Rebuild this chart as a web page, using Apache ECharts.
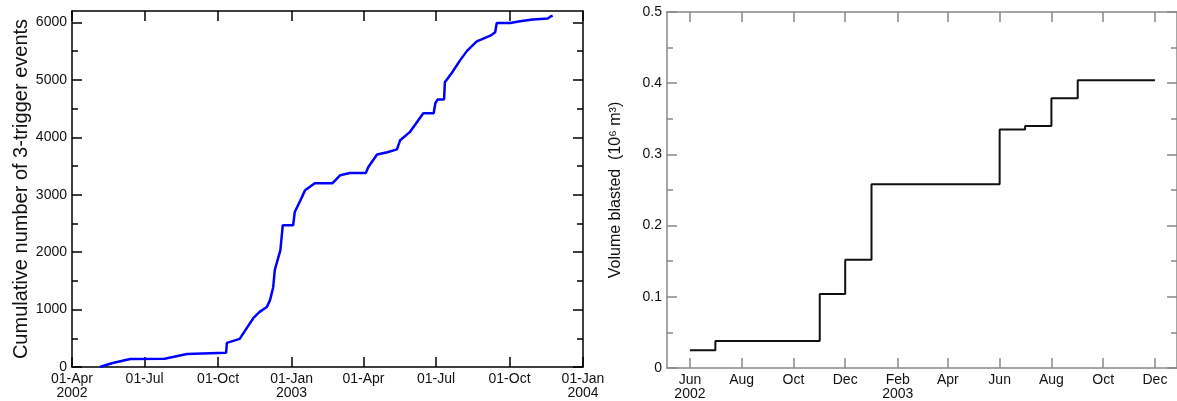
<!DOCTYPE html>
<html>
<head>
<meta charset="utf-8">
<script src="https://cdn.jsdelivr.net/npm/echarts@6/dist/echarts.min.js"></script>
<style>
  html, body { margin: 0; padding: 0; background: #fff; }
  #chart { width: 1177px; height: 401px; }
</style>
</head>
<body>
<div id="chart"></div>
<script>
// cumulative 3-trigger events (left panel)
var eventDates = [
  '2002-05-06', '2002-05-22', '2002-06-13', '2002-07-26', '2002-08-23', '2002-10-11',
  '2002-10-12', '2002-10-28', '2002-11-14', '2002-11-22', '2002-12-01', '2002-12-05',
  '2002-12-09', '2002-12-11', '2002-12-18', '2002-12-21', '2003-01-03', '2003-01-05',
  '2003-01-12', '2003-01-18', '2003-01-30', '2003-02-21', '2003-03-03', '2003-03-15',
  '2003-04-04', '2003-04-07', '2003-04-18', '2003-05-01', '2003-05-13', '2003-05-17',
  '2003-05-29', '2003-06-15', '2003-06-28', '2003-06-30', '2003-07-03', '2003-07-11',
  '2003-07-12', '2003-07-21', '2003-07-31', '2003-08-09', '2003-08-21', '2003-09-07',
  '2003-09-13', '2003-09-15', '2003-10-02', '2003-10-14', '2003-10-30', '2003-11-18',
  '2003-11-21', '2003-11-24'
];
var eventCounts = [
  0, 70, 140, 145, 225, 250,
  420, 490, 850, 960, 1045, 1165,
  1390, 1690, 2035, 2470, 2470, 2700,
  2900, 3080, 3200, 3200, 3340, 3380,
  3380, 3480, 3700, 3740, 3790, 3950,
  4090, 4420, 4420, 4590, 4660, 4660,
  4960, 5130, 5340, 5510, 5670, 5770,
  5830, 5990, 5990, 6020, 6050, 6070,
  6100, 6120
];

// volume blasted (right panel), stepwise
var blastDates = [
  '2002-06-01', '2002-07-01', '2002-11-01', '2002-12-01', '2003-01-01',
  '2003-06-01', '2003-07-01', '2003-08-01', '2003-09-01', '2003-12-01'
];
var blastVolumes = [0.025, 0.038, 0.104, 0.152, 0.258, 0.335, 0.340, 0.379, 0.404, 0.404];

// tick labels
var leftTickDates = ['2002-04-01', '2002-07-01', '2002-10-01', '2003-01-01', '2003-04-01',
  '2003-07-01', '2003-10-01', '2004-01-01'];
var leftTickLabels = ['01-Apr\n2002', '01-Jul', '01-Oct', '01-Jan\n2003', '01-Apr',
  '01-Jul', '01-Oct', '01-Jan\n2004'];
var rightTickDates = ['2002-06-01', '2002-08-01', '2002-10-01', '2002-12-01', '2003-02-01',
  '2003-04-01', '2003-06-01', '2003-08-01', '2003-10-01', '2003-12-01'];
var rightTickLabels = ['Jun\n2002', 'Aug', 'Oct', 'Dec', 'Feb\n2003',
  'Apr', 'Jun', 'Aug', 'Oct', 'Dec'];
var leftMajorY = [0, 1000, 2000, 3000, 4000, 5000, 6000];
var leftMinorY = [500, 1500, 2500, 3500, 4500, 5500];
var rightMajorY = [0, 0.1, 0.2, 0.3, 0.4, 0.5];
var rightMinorY = [0.05, 0.15, 0.25, 0.35, 0.45];

function t(s) {
  return new Date(s + 'T00:00:00').getTime();
}

function labelMap(dates, labels) {
  var m = {};
  for (var i = 0; i < dates.length; i++) m[t(dates[i])] = labels[i];
  return m;
}

var leftMap = labelMap(leftTickDates, leftTickLabels);
var rightMap = labelMap(rightTickDates, rightTickLabels);

var FONT = 'Liberation Sans';

// dates on a plain value axis (timestamps) so ticks can sit on chosen days
function xAxis(grid, pos, min, max, dates, map, color, showLabel) {
  var ticks = dates.map(t);
  return {
    type: 'value',
    gridIndex: grid,
    position: pos,
    min: t(min),
    max: t(max),
    scale: true,
    axisLine: { onZero: false, lineStyle: { color: color, width: 1.5 } },
    axisTick: { customValues: ticks, inside: true, length: 10, lineStyle: { color: color, width: 1.5 } },
    axisLabel: {
      show: showLabel,
      customValues: ticks,
      formatter: function (v) { return map[v] || ''; },
      color: '#111',
      fontFamily: FONT,
      fontSize: 14,
      lineHeight: 14,
      margin: 5,
      hideOverlap: false
    },
    splitLine: { show: false }
  };
}

function yAxis(grid, pos, min, max, ticks, len, color, showLine, showLabel, name) {
  return {
    type: 'value',
    gridIndex: grid,
    position: pos,
    min: min,
    max: max,
    name: name || '',
    nameLocation: 'middle',
    nameGap: grid === 0 ? 32 : 43,
    nameTextStyle: { fontFamily: FONT, fontSize: grid === 0 ? 20 : 16, color: '#111' },
    axisLine: { onZero: false, show: showLine, lineStyle: { color: color, width: 1.5 } },
    axisTick: { customValues: ticks, inside: true, length: len, lineStyle: { color: color, width: 1.5 } },
    axisLabel: {
      show: showLabel,
      customValues: ticks,
      formatter: function (v) { return String(v); },
      color: '#111',
      fontFamily: FONT,
      fontSize: 14,
      margin: 5
    },
    splitLine: { show: false }
  };
}

var chart = echarts.init(document.getElementById('chart'));
chart.setOption({
  animation: false,
  backgroundColor: '#fff',
  grid: [
    { left: 72, top: 11, width: 511, height: 356 },
    { left: 667, top: 12, width: 512, height: 356 }
  ],
  xAxis: [
    xAxis(0, 'bottom', '2002-04-01', '2004-01-01', leftTickDates, leftMap, '#000', true),
    xAxis(0, 'top', '2002-04-01', '2004-01-01', leftTickDates, leftMap, '#000', false),
    xAxis(1, 'bottom', '2002-05-05', '2003-12-27', rightTickDates, rightMap, '#888', true),
    xAxis(1, 'top', '2002-05-05', '2003-12-27', rightTickDates, rightMap, '#888', false)
  ],
  yAxis: [
    yAxis(0, 'left', 0, 6200, leftMajorY, 10, '#000', true, true, 'Cumulative number of 3-trigger events'),
    yAxis(0, 'left', 0, 6200, leftMinorY, 6, '#000', false, false),
    yAxis(0, 'right', 0, 6200, leftMajorY, 10, '#000', true, false),
    yAxis(0, 'right', 0, 6200, leftMinorY, 6, '#000', false, false),
    yAxis(1, 'left', 0, 0.5, rightMajorY, 10, '#888', true, true, 'Volume blasted  (10\u2076 m\u00b3)'),
    yAxis(1, 'left', 0, 0.5, rightMinorY, 6, '#888', false, false),
    yAxis(1, 'right', 0, 0.5, rightMajorY, 10, '#888', true, false),
    yAxis(1, 'right', 0, 0.5, rightMinorY, 6, '#888', false, false)
  ],
  series: [
    {
      type: 'line',
      xAxisIndex: 0,
      yAxisIndex: 0,
      showSymbol: false,
      lineStyle: { color: '#0000ff', width: 2.5 },
      data: eventDates.map(function (d, i) { return [t(d), eventCounts[i]]; })
    },
    {
      type: 'line',
      xAxisIndex: 2,
      yAxisIndex: 4,
      step: 'end',
      showSymbol: false,
      lineStyle: { color: '#111', width: 2 },
      data: blastDates.map(function (d, i) { return [t(d), blastVolumes[i]]; })
    }
  ]
});
</script>
</body>
</html>
